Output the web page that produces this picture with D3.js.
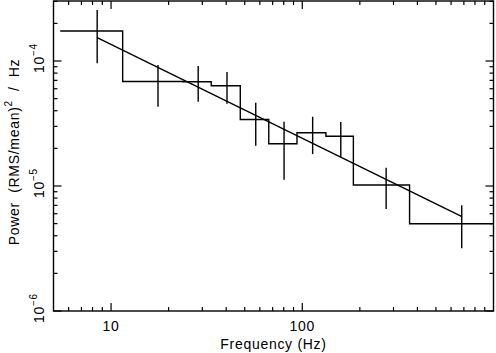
<!DOCTYPE html>
<html>
<head>
<meta charset="utf-8">
<script src="https://cdn.jsdelivr.net/npm/d3@7"></script>
<style>
  html, body { margin: 0; padding: 0; background: #fff; }
  svg { display: block; }
  text { font-family: "Liberation Sans", Arial, Helvetica, sans-serif; fill: #000; letter-spacing: 0.7px; }
</style>
</head>
<body>
<svg id="chart" width="496" height="353"></svg>
<script>
// ---- data ----
const binEdges   = [5.42, 11.5, 23.7, 33.4, 47.4, 66.8, 93.8, 132.9, 185, 364, 1000];
const binCenters = [8.46, 17.6, 28.55, 40.4, 57.1, 80.3, 113.3, 159, 274.5, 682];
const power      = [1.74e-4, 6.85e-5, 6.82e-5, 6.34e-5, 3.40e-5, 2.18e-5, 2.67e-5, 2.50e-5, 1.02e-5, 4.99e-6];
const errLow     = [9.58e-5, 4.31e-5, 4.73e-5, 4.55e-5, 2.10e-5, 1.12e-5, 1.80e-5, 1.71e-5, 6.55e-6, 3.17e-6];
const errHigh    = [2.56e-4, 9.29e-5, 9.12e-5, 8.17e-5, 4.64e-5, 3.27e-5, 3.58e-5, 3.25e-5, 1.40e-5, 7.01e-6];
const fitFreq    = [8.46, 684];
const fitPower   = [1.536e-4, 5.68e-6];
const xMajorTicks = [10, 100];
const xTickLabels = ["10", "100"];
const yMajorTicks = [1e-6, 1e-5, 1e-4];
const yTickExps   = ["\u22126", "\u22125", "\u22124"];
const xDomain = [5, 1000];
const yDomain = [1e-6, 3.02e-4];

// ---- layout ----
const L = 53.5, T = 1, R = 493.5, B = 311;
const svg = d3.select("#chart");
const x = d3.scaleLog().domain(xDomain).range([L, R]);
const y = d3.scaleLog().domain(yDomain).range([B, T]);
const lw = 1.4;

// minor ticks
const xMinor = [];
[1, 10, 100].forEach(d => { for (let k = 2; k <= 9; k++) { const v = d * k; if (v > xDomain[0] && v < xDomain[1] && !xMajorTicks.includes(v)) xMinor.push(v); } });
const yMinor = [];
[1e-6, 1e-5, 1e-4].forEach(d => { for (let k = 2; k <= 9; k++) { const v = d * k; if (v > yDomain[0] && v < yDomain[1]) yMinor.push(v); } });

const g = svg.append("g").attr("stroke", "#000").attr("stroke-width", 1.2).attr("fill", "none");
const majorLen = 8, minorLen = 4;
// x ticks (bottom & top, inward)
xMajorTicks.forEach(v => {
  g.append("line").attr("x1", x(v)).attr("x2", x(v)).attr("y1", B).attr("y2", B - majorLen);
  g.append("line").attr("x1", x(v)).attr("x2", x(v)).attr("y1", T).attr("y2", T + majorLen);
});
xMinor.forEach(v => {
  g.append("line").attr("x1", x(v)).attr("x2", x(v)).attr("y1", B).attr("y2", B - minorLen);
  g.append("line").attr("x1", x(v)).attr("x2", x(v)).attr("y1", T).attr("y2", T + minorLen);
});
// y ticks (left & right, inward)
yMajorTicks.forEach(v => {
  g.append("line").attr("y1", y(v)).attr("y2", y(v)).attr("x1", L).attr("x2", L + majorLen);
  g.append("line").attr("y1", y(v)).attr("y2", y(v)).attr("x1", R).attr("x2", R - majorLen);
});
yMinor.forEach(v => {
  g.append("line").attr("y1", y(v)).attr("y2", y(v)).attr("x1", L).attr("x2", L + minorLen);
  g.append("line").attr("y1", y(v)).attr("y2", y(v)).attr("x1", R).attr("x2", R - minorLen);
});

// frame
svg.append("rect").attr("x", L).attr("y", T).attr("width", R - L).attr("height", B - T)
  .attr("fill", "none").attr("stroke", "#000").attr("stroke-width", 1.4);

// histogram steps
const stepPts = binEdges.map((e, i) => [e, power[Math.min(i, power.length - 1)]]);
const stepLine = d3.line().x(d => x(d[0])).y(d => y(d[1])).curve(d3.curveStepAfter);
svg.append("path").attr("d", stepLine(stepPts)).attr("fill", "none").attr("stroke", "#000").attr("stroke-width", lw);

// error bars (vertical)
svg.append("g").selectAll("line").data(binCenters).join("line")
  .attr("x1", d => x(d)).attr("x2", d => x(d))
  .attr("y1", (d, i) => y(errHigh[i])).attr("y2", (d, i) => y(errLow[i]))
  .attr("stroke", "#000").attr("stroke-width", lw);

// fitted power law
const fitLine = d3.line().x(d => x(d[0])).y(d => y(d[1]));
svg.append("path").attr("d", fitLine(fitFreq.map((f, i) => [f, fitPower[i]])))
  .attr("fill", "none").attr("stroke", "#000").attr("stroke-width", lw);

// x tick labels
svg.append("g").selectAll("text").data(xMajorTicks).join("text")
  .attr("x", d => x(d)).attr("y", 331).attr("text-anchor", "middle")
  .attr("font-size", 14).text((d, i) => xTickLabels[i]);

// y tick labels (rotated, 10^n)
yMajorTicks.forEach((v, i) => {
  const t = svg.append("text")
    .attr("transform", `translate(43.5,${y(v) - 3}) rotate(-90)`)
    .attr("text-anchor", "middle").attr("font-size", 14);
  t.append("tspan").text("10");
  t.append("tspan").attr("font-size", 10).attr("dy", -6.5).text(yTickExps[i]);
});

// axis titles
svg.append("text").attr("x", (L + R) / 2).attr("y", 349).attr("text-anchor", "middle")
  .attr("font-size", 14).style("white-space", "pre").text("Frequency (Hz)");

const yt = svg.append("text")
  .attr("transform", `translate(18.5,152) rotate(-90)`)
  .attr("text-anchor", "middle").attr("font-size", 14).style("white-space", "pre");
yt.append("tspan").text("Power  (RMS/mean)");
yt.append("tspan").attr("font-size", 10).attr("dy", -6.5).text("2");
yt.append("tspan").attr("dy", 6.5).text("  /  Hz");
</script>
</body>
</html>
